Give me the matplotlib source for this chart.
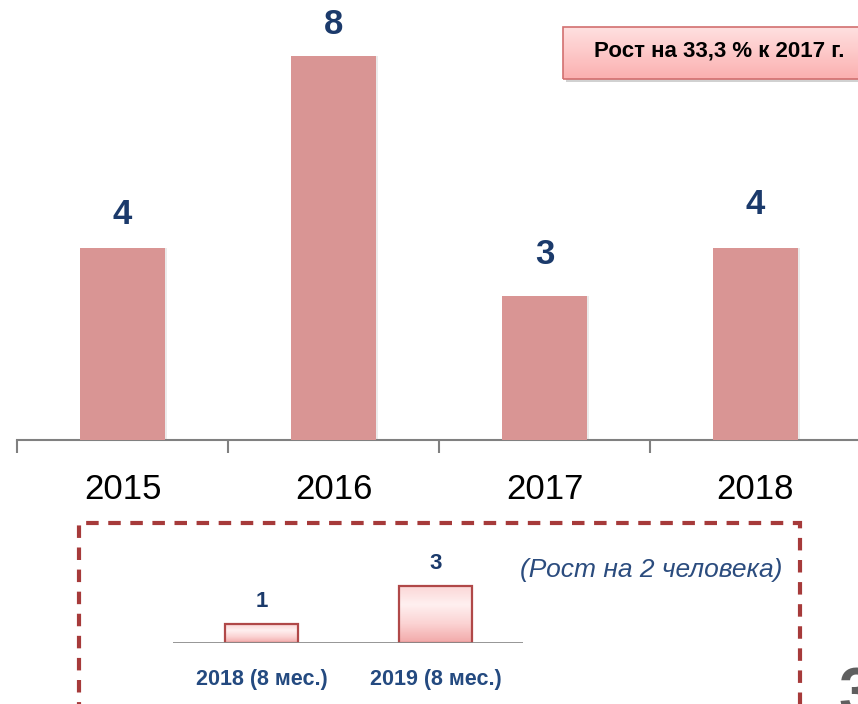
#!/usr/bin/env python3
"""Bar chart: headcount by year, with an inset comparing 8-month periods."""

import numpy as np
import matplotlib
matplotlib.use("Agg")
import matplotlib.pyplot as plt
from matplotlib.colors import LinearSegmentedColormap
from matplotlib.patches import Rectangle

plt.rcParams["font.family"] = ["Liberation Sans", "DejaVu Sans"]

# ── Data ──────────────────────────────────────────────────────────────────
years = ["2015", "2016", "2017", "2018"]
values = [4, 8, 3, 4]

inset_labels = ["2018 (8 мес.)", "2019 (8 мес.)"]
inset_values = [1, 3]

growth_note = "Рост на 33,3 % к 2017 г."
inset_note = "(Рост на 2 человека)"

# ── Style ─────────────────────────────────────────────────────────────────
W, H = 858, 704
BAR_COLOR = "#D99594"
NAVY = "#1B3A6B"
LABEL_PAD = [24, 23, 30, 31]  # points above bar top (uneven in source)


def fx(px):
    return px / W


def fy(py):
    return 1 - py / H


fig = plt.figure(figsize=(W / 100, H / 100), dpi=100)

# ── Main chart ────────────────────────────────────────────────────────────
ax = fig.add_axes([fx(17), fy(440), 844 / W, 9 * 48 / H])
x = np.arange(len(years))
bars = ax.bar(x, values, width=0.4, color=BAR_COLOR, zorder=3)
# faint shadow on the right of each bar
for b in bars:
    ax.add_patch(Rectangle((b.get_x() + 0.012, 0), b.get_width(), b.get_height(),
                           color="#000000", alpha=0.08, lw=0, zorder=2))
for xi, v, pad in zip(x, values, LABEL_PAD):
    ax.annotate(str(v), (xi, v), xytext=(0, pad), textcoords="offset points",
                ha="center", va="center", fontsize=25, fontweight="bold", color=NAVY)

ax.set_xlim(-0.5, len(years) - 0.5)
ax.set_ylim(0, 9)
ax.set_xticks(np.arange(-0.5, len(years), 1.0))
ax.set_xticklabels([])
ax.set_xticks(x, minor=True)
ax.set_xticklabels(years, minor=True, fontsize=25)
ax.tick_params(axis="x", which="major", length=9, width=1.5, color="#808080", direction="out")
ax.tick_params(axis="x", which="minor", length=0, pad=24)
ax.set_yticks([])
for s in ["top", "right", "left"]:
    ax.spines[s].set_visible(False)
ax.spines["bottom"].set_color("#808080")
ax.spines["bottom"].set_linewidth(1.5)
ax.patch.set_visible(False)

# ── Growth note box (top right) ───────────────────────────────────────────
bx0, by0, bx1, by1 = fx(563), fy(79), fx(870), fy(27)
fig.patches.append(Rectangle((bx0 + fx(3), by0 - 3 / H), bx1 - bx0, by1 - by0,
                             transform=fig.transFigure, color="#000000", alpha=0.18,
                             lw=0, zorder=-5))
grad = np.linspace(0, 1, 64).reshape(-1, 1)
box_img = fig.add_axes([bx0, by0, bx1 - bx0, by1 - by0])
box_img.imshow(grad, aspect="auto", extent=[0, 1, 0, 1], origin="lower",
               cmap=LinearSegmentedColormap.from_list("boxg", ["#FBB0B0", "#FFE0E0"]))
box_img.set_axis_off()
fig.patches.append(Rectangle((bx0, by0), bx1 - bx0, by1 - by0, transform=fig.transFigure,
                             fill=False, ec="#D27070", lw=1.2))
fig.text(fx(719), fy(51), growth_note, ha="center", va="center",
         fontsize=16, fontweight="bold", color="#000000", zorder=5)

# ── Inset: 8-month comparison ─────────────────────────────────────────────
fig.patches.append(Rectangle((fx(79), fy(740)), fx(800) - fx(79), fy(523) - fy(740),
                             transform=fig.transFigure, fill=False, ec="#A63A3A",
                             lw=3, ls=(0, (3, 2.3))))

iax = fig.add_axes([fx(173), fy(643), fx(523) - fx(173), 4 * 19 / H])
xi_ = np.arange(len(inset_values))
cmap_bar = LinearSegmentedColormap.from_list("barg", ["#F2A9A9", "#FBD3D3", "#FFF0F0", "#FBD6D6"])
for xc, v in zip(xi_, inset_values):
    w = 0.42
    iax.imshow(grad, aspect="auto", cmap=cmap_bar,
               extent=[xc - w / 2, xc + w / 2, 0, v], origin="lower", zorder=2)
    iax.add_patch(Rectangle((xc - w / 2, 0), w, v, fill=False, ec="#B04848", lw=1.6, zorder=3))
    iax.annotate(str(v), (xc, v), xytext=(0, 16), textcoords="offset points",
                 ha="center", va="center", fontsize=16, fontweight="bold", color=NAVY)
iax.axhline(0, color="#8C8C8C", lw=2, zorder=4)
iax.set_xlim(-0.508, 1.503)
iax.set_ylim(0, 4)
iax.set_xticks(xi_)
iax.set_xticklabels(inset_labels, fontsize=15.5, fontweight="bold", color="#244A80")
iax.tick_params(axis="x", length=0, pad=19)
iax.set_yticks([])
for s in iax.spines.values():
    s.set_visible(False)
iax.patch.set_visible(False)

fig.text(fx(651), fy(570), inset_note, ha="center", va="center",
         fontsize=19, style="italic", color="#2B4C7E")

# page number, cut by the frame edge
fig.text(fx(838), fy(666), "3", ha="left", va="top", fontsize=46,
         fontweight="bold", color="#5F5F5F")

fig.savefig("out.png", dpi=100)
